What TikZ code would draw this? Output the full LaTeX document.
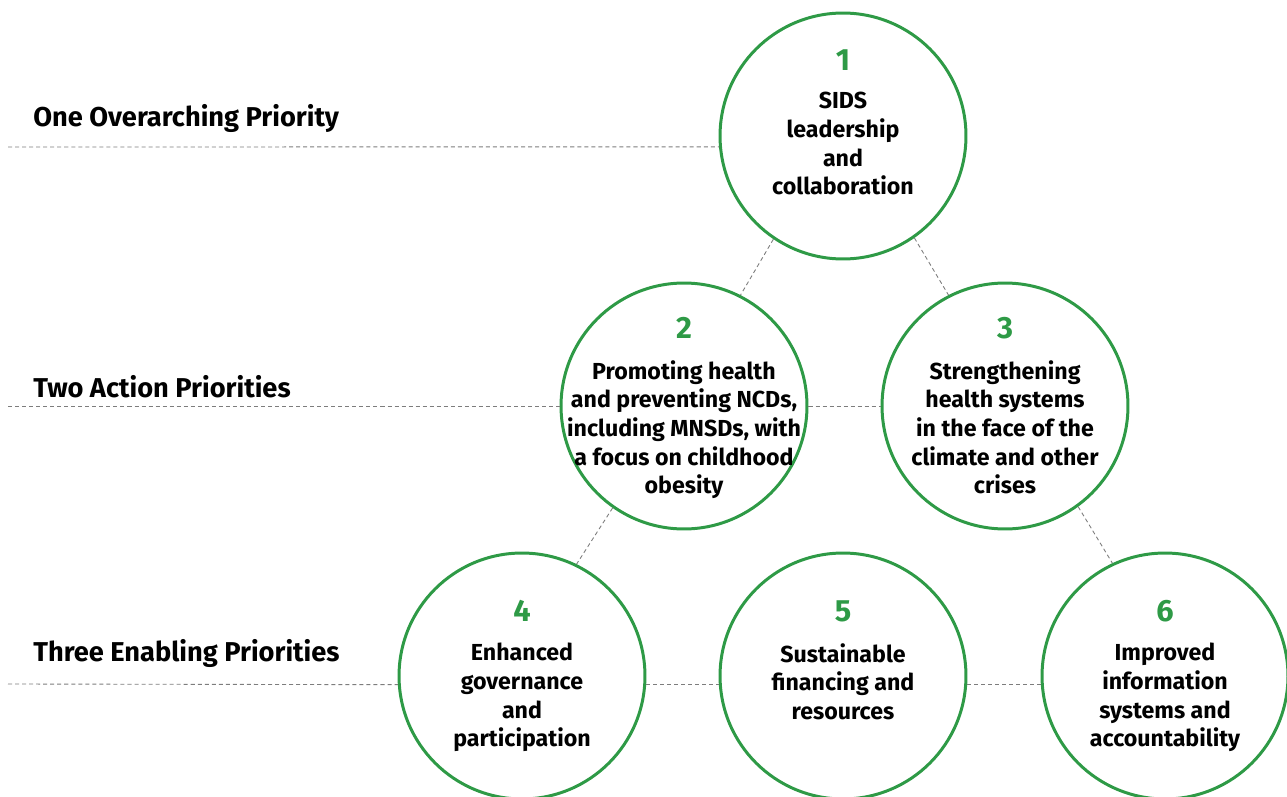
\documentclass[tikz,border=0pt]{standalone}
\usepackage{fontspec}
\setmainfont{Fira Sans}
\usetikzlibrary{positioning}
\definecolor{prgreen}{RGB}{46,154,70}
\definecolor{linegray}{RGB}{125,125,125}

\tikzset{
    prio/.style={circle, draw=prgreen, line width=1.7pt, minimum size=4.92cm, inner sep=0pt},
    num/.style={text=prgreen, inner sep=0pt, font=\fontsize{17.5}{18}\selectfont\bfseries},
    desc/.style={anchor=north, align=center, inner sep=0pt, font=\fontsize{13.2}{16.3}\selectfont\bfseries},
    level/.style={anchor=base west, inner sep=0pt, font=\fontsize{15.5}{17}\selectfont\bfseries},
    link/.style={linegray, line width=0.5pt, dash pattern=on 2.3pt off 1.7pt}
}

\begin{document}
\begin{tikzpicture}[x=0.02cm,y=-0.02cm]
        \useasboundingbox (0,0) rectangle (1287,797);
        % circles and numbers
        \foreach \n/\x/\y in {1/843/136, 2/684/406, 3/1005/406, 4/522/676, 5/843/676, 6/1165/676}
        {
            \node[prio] (c\n) at (\x,\y) {};
        }
        \foreach \n/\x/\y in {1/843/60, 2/684/328, 3/1005/328, 4/522/611, 5/843/611, 6/1165/611}
        {
            \node[num] (n\n) at (\x,\y) {\n};
        }
        \node[desc] (t1) at (843,92) {SIDS\\leadership\\and\\collaboration};
        \node[desc] (t2) at (684,360) {Promoting health\\and preventing NCDs,\\including MNSDs, with\\a focus on childhood\\obesity};
        \node[desc] (t3) at (1005,360) {Strengthening\\health systems\\in the face of the\\climate and other\\crises};
        \node[desc] (t4) at (522,643) {Enhanced\\governance\\and\\participation};
        \node[desc] (t5) at (843,643) {Sustainable\\financing and\\resources};
        \node[desc] (t6) at (1165,643) {Improved\\information\\systems and\\accountability};
        % levels
        \node[level] (l1) at (33,127) {One Overarching Priority};
        \node[level] (l2) at (33,397) {Two Action Priorities};
        \node[level] (l3) at (33,661) {Three Enabling Priorities};
        \coordinate (r1) at (8,147);
        \coordinate (r2) at (8,406);
        \coordinate (r3) at (8,684);
        % dashed links
        \draw[link] (r1) -- (c1.185);
        \draw[link] (r2) -- (c2.west);
        \draw[link] (c2.east) -- (c3.west);
        \draw[link] (r3) -- (c4.184);
        \draw[link] (c4.356) -- (c5.184);
        \draw[link] (c5.356) -- (c6.184);
        \draw[link] (c1.236) -- (c2.63);
        \draw[link] (c1.305) -- (c3.117);
        \draw[link] (c2.235) -- (c4.64);
        \draw[link] (c3.306) -- (c6.115);
    \end{tikzpicture}
\end{document}
